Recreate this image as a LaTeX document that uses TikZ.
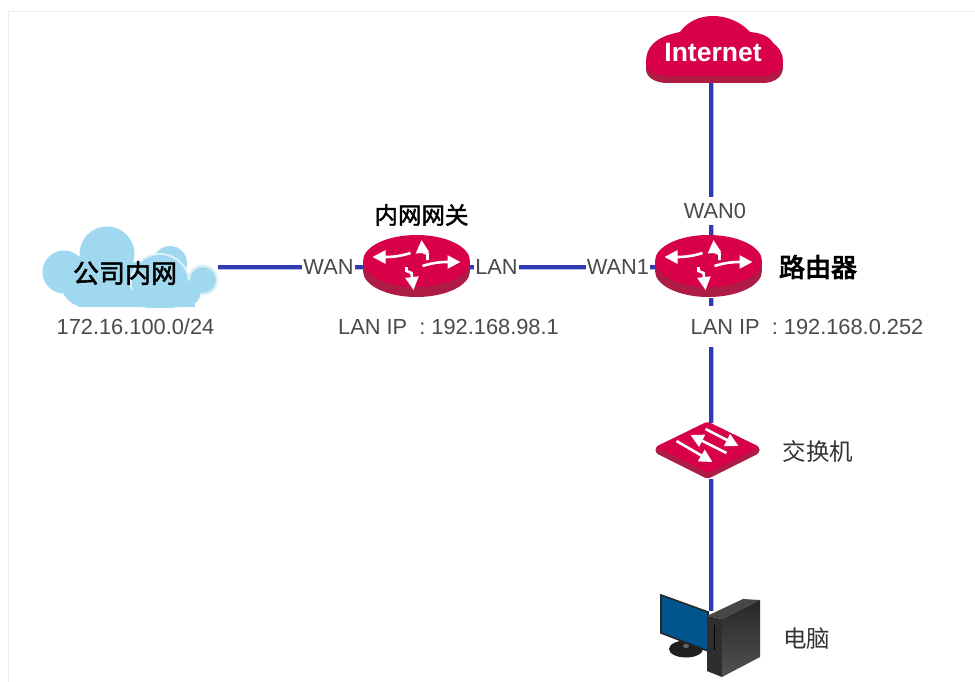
\documentclass[tikz,border=0pt]{standalone}
\usepackage{fontspec}
\setmainfont{Liberation Sans}
\newfontfamily\cjk{Noto Sans CJK SC}
\usetikzlibrary{arrows.meta}
\definecolor{rtop}{HTML}{D9004A}
\definecolor{rside}{HTML}{AE1C45}
\definecolor{linkc}{HTML}{2E3BB5}
\definecolor{halo}{HTML}{B4B9E6}
\definecolor{skyb}{HTML}{A0D8EF}
\definecolor{txtc}{HTML}{4A4A4A}
\definecolor{monb}{HTML}{00558F}
\tikzset{
  x=1pt,y=-1pt,
  anchorbox/.style={inner sep=0pt,outer sep=0pt},
  link/.style={line width=3.4pt,draw=linkc,preaction={draw=halo,line width=5pt}},
  lbl/.style={fill=white,text=txtc,inner xsep=1pt,inner ysep=0pt,font=\fontsize{21.8}{23}\selectfont},
  cjklbl/.style={inner sep=0pt,font=\cjk\fontsize{23.5}{26}\selectfont},
  warrow/.style={draw=white,line width=2.6pt,-{Triangle[length=13pt,width=13pt,fill=white]}},
  router/.pic={
    \fill[rside] (0,5) ellipse[x radius=53.5,y radius=26];
    \fill[rside] (-53.5,-5) rectangle (53.5,5);
    \fill[rtop] (0,-5) ellipse[x radius=53.5,y radius=26];
    \draw[warrow] (-6,-13) .. controls (-18,-9) and (-28,-9) .. (-44,-9);
    \draw[warrow] (6,0) .. controls (18,-4) and (28,-4) .. (44,-4);
    \draw[warrow] (11,-6) -- (11,-12) -- (6,-14) -- (5,-26);
    \draw[warrow] (-10,1) -- (-10,5) -- (-5,7) -- (-3,24);
  },
  switchicon/.pic={
    \fill[rside,rounded corners=3pt] (-52,-3) -- (0,-28) -- (52,-3) -- (52,3) -- (0,29) -- (-52,3) -- cycle;
    \fill[rtop,rounded corners=3pt] (-52,-3) -- (0,-28.5) -- (52,-3) -- (0,23) -- cycle;
    \draw[warrow] (-31,-9) -- (5,12);
    \draw[warrow] (19,3) -- (-17,-15);
    \draw[warrow] (-2,-21) -- (31,-4);
  },
}
\newcommand{\cloudpath}{(646,62) .. controls (646,48) and (654,37) .. (680,32)
     .. controls (688,21) and (700,16) .. (713,16)
     .. controls (727,16) and (741,22) .. (750,32)
     .. controls (762,33) and (770,37) .. (773,43)
     .. controls (779,47) and (783,54) .. (783,60)
     .. controls (783,69) and (776,75) .. (765,76)
     -- (665,76) .. controls (654,75) and (646,70) .. (646,62) -- cycle}
\begin{document}
\begin{tikzpicture}
\useasboundingbox (0,0) rectangle (975,682);
\fill[white] (0,0) rectangle (975,682);
\draw[draw=black!7,line width=1.5pt] (8.5,682) -- (8.5,11.5) -- (975,11.5);

% invisible anchors of the devices
\node[anchorbox,minimum width=130pt,minimum height=67pt] (inet) at (711,49.5) {};
\node[anchorbox,minimum width=176pt,minimum height=70pt] (corp) at (130,267) {};
\node[anchorbox,minimum width=107pt,minimum height=62pt] (gw) at (416.5,267) {};
\node[anchorbox,minimum width=107pt,minimum height=62pt] (rt) at (711,267) {};
\node[anchorbox,minimum width=100pt,minimum height=56pt] (sw) at (711,451) {};
\node[anchorbox,minimum width=90pt,minimum height=60pt] (pc) at (711,641) {};

% connectors
\draw[link] (inet.south) -- (rt.north);
\draw[link] (corp.east) -- (gw.west);
\draw[link] (gw.east) -- (rt.west);
\draw[link] (rt.south) -- (sw.north);
\draw[link] (sw.south) -- (pc.north);

% Internet cloud
\begin{scope}[shift={(0,7)}]
  \fill[rside] \cloudpath;
\end{scope}
\fill[rside] (646,62) rectangle (783,69);
\fill[rtop] \cloudpath;
\node[anchorbox,text=white,font=\bfseries\fontsize{26.5}{27}\selectfont] (inettxt) at (713,53) {Internet};

% company cloud
\begin{scope}
  \clip (30,220) rectangle (230,307);
  \fill[skyb] (107,254) circle[radius=27.5] (64,272) circle[radius=21.5] (85,283) circle[radius=24] (170,263) circle[radius=17];
  \fill[skyb] (62,262) rectangle (165,290);
  \fill[skyb] (78,280) rectangle (130,307);
  \fill[white!65!skyb] (160,283) circle[radius=30] (203,280) circle[radius=15.5];
  \fill[skyb] (160,283) circle[radius=28] (203,280) circle[radius=13] (188,293) circle[radius=12.5];
  \fill[skyb] (130,290) rectangle (195,307);
\end{scope}
\node[anchorbox,font=\cjk\fontsize{26}{28}\selectfont] (corptxt) at (125,273) {\special{pdf:literal 2 Tr 0.5 w}公司内网\special{pdf:literal 0 Tr 0 w}};

% routers and switch
\pic at (416.5,266) {router};
\pic at (708.5,266) {router};
\pic at (707.5,450) {switchicon};

% computer
\fill[black!88] (686,649) ellipse[x radius=17,y radius=8.5];
\fill[black!60] (686,646) ellipse[x radius=3,y radius=2];
\draw[draw=black!85,fill=monb,line width=1.6pt] (661,595) -- (708,612) -- (708,651) -- (661,633) -- cycle;
\fill[black!72] (707,616) -- (743,599) -- (760,600) -- (722,619) -- cycle;
\fill[black!82] (707,616) -- (722,619) -- (722,677) -- (707,671) -- cycle;
\shade[top color=black!85,bottom color=black!68] (722,619) -- (760,600) -- (760,657) -- (722,677) -- cycle;
\draw[draw=black,line width=1pt] (714,625) -- (714,650);

% labels
\node[lbl,minimum height=28pt] (wan0) at (715,211) {WAN0};
\node[lbl,minimum height=28pt] (wan) at (328.5,267) {WAN};
\node[lbl,minimum height=28pt] (lan) at (496.5,267) {LAN};
\node[lbl,minimum height=28pt] (wan1) at (618,267) {WAN1};
\node[lbl,minimum height=41pt,inner xsep=0pt] (iprt) at (807,326.5) {LAN IP\ \ : 192.168.0.252};
\node[lbl,inner xsep=0pt] (ipgw) at (448.5,327) {LAN IP\ \ : 192.168.98.1};
\node[lbl,inner xsep=0pt] (ipcorp) at (135.5,327) {172.16.100.0/24};
\node[cjklbl,font=\cjk\fontsize{23.5}{26}\selectfont] (gwtxt) at (421.5,215) {\special{pdf:literal 2 Tr 0.4 w}内网网关\special{pdf:literal 0 Tr 0 w}};
\node[cjklbl,font=\cjk\fontsize{26}{28}\selectfont] (rttxt) at (818,267) {\special{pdf:literal 2 Tr 0.9 w}路由器\special{pdf:literal 0 Tr 0 w}};
\node[cjklbl,text=black!80] (swtxt) at (818,451) {交换机};
\node[cjklbl,text=black!80] (pctxt) at (806.5,639) {电脑};
\end{tikzpicture}
\end{document}
